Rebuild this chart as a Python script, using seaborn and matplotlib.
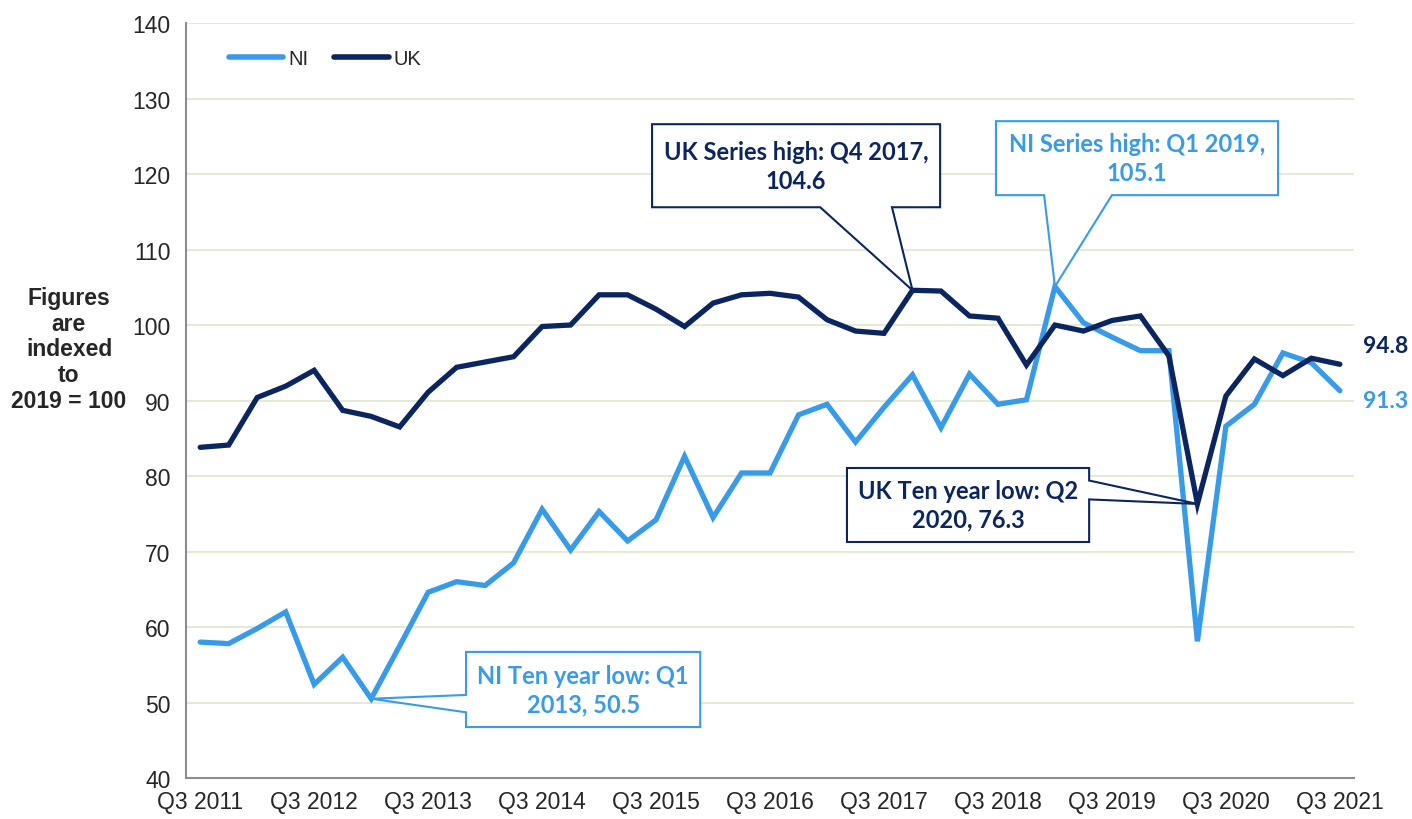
import numpy as np
import pandas as pd
import matplotlib
matplotlib.use("Agg")
import matplotlib.pyplot as plt
from matplotlib.patches import Polygon
from matplotlib.ticker import MultipleLocator
import seaborn as sns

# quarterly index, 2019 = 100
quarters = [f"Q{q} {y}" for y in range(2011, 2022) for q in (1, 2, 3, 4)][2:43]
tick_labels = ["Q3 2011", "Q3 2012", "Q3 2013", "Q3 2014", "Q3 2015", "Q3 2016",
               "Q3 2017", "Q3 2018", "Q3 2019", "Q3 2020", "Q3 2021"]

ni = [58.0, 57.8, 59.8, 62.0, 52.4, 56.0, 50.5, 57.5, 64.6, 66.0, 65.5,
      68.5, 75.6, 70.2, 75.3, 71.4, 74.2, 82.6, 74.5, 80.4, 80.4, 88.1,
      89.5, 84.5, 89.1, 93.4, 86.4, 93.5, 89.5, 90.1, 105.1, 100.3, 98.4,
      96.6, 96.6, 58.1, 86.6, 89.5, 96.3, 95.0, 91.3]
uk = [83.8, 84.1, 90.4, 91.9, 94.0, 88.7, 87.9, 86.5, 91.1, 94.4, 95.1,
      95.8, 99.8, 100.0, 104.0, 104.0, 102.1, 99.8, 102.9, 104.0, 104.2, 103.7,
      100.7, 99.2, 98.9, 104.6, 104.5, 101.2, 100.9, 94.7, 100.0, 99.2, 100.6,
      101.2, 95.9, 76.3, 90.6, 95.5, 93.3, 95.6, 94.8]

NI_COL = "#389BEA"
UK_COL = "#0B2560"
GRID = "#E3EBD6"
CALLOUT_FONT = ["Lato", "DejaVu Sans"]

df = pd.DataFrame({
    "pos": list(range(len(quarters))) * 2,
    "value": ni + uk,
    "series": ["NI"] * len(ni) + ["UK"] * len(uk),
})

sns.set_style("white")
plt.rcParams["font.family"] = ["Liberation Sans", "DejaVu Sans"]

fig = plt.figure(figsize=(14.12, 8.2), dpi=100)
ax = fig.add_axes([0.1317, 0.05, 0.8273, 0.9207])

sns.lineplot(data=df, x="pos", y="value", hue="series",
             palette={"NI": NI_COL, "UK": UK_COL}, linewidth=3.8,
             ax=ax, legend=False)
for ln in ax.lines:
    ln.set_solid_joinstyle("miter")
    ln.set_solid_capstyle("round")

ax.set_xlim(-0.5, len(quarters) - 0.5)
ax.set_ylim(40, 140)
ax.yaxis.set_major_locator(MultipleLocator(10))
ax.yaxis.grid(True, color=GRID, linewidth=1.5)
ax.set_axisbelow(True)

ax.set_xticks([quarters.index(t) for t in tick_labels])
ax.set_xticklabels(tick_labels)
ax.set_xticks(np.arange(-0.5, len(quarters), 1), minor=True)
ax.tick_params(axis="x", which="major", length=0, pad=9, labelsize=16.5)
ax.tick_params(axis="x", which="minor", length=5, width=1.2, color="#8C8C8C", direction="out")
ax.tick_params(axis="y", length=6, width=1.2, color="#8C8C8C", direction="out", labelsize=16.5, pad=5)
ax.set_xlabel("")
ax.set_ylabel("")
for side in ["top", "right"]:
    ax.spines[side].set_visible(False)
for side in ["left", "bottom"]:
    ax.spines[side].set_color("#8C8C8C")
    ax.spines[side].set_linewidth(1.5)

# legend
handles = [plt.Line2D([], [], color=NI_COL, lw=4, solid_capstyle="round"),
           plt.Line2D([], [], color=UK_COL, lw=4, solid_capstyle="round")]
ax.legend(handles, ["NI", "UK"], loc="upper left", bbox_to_anchor=(0.021, 0.99),
          ncol=2, frameon=False, fontsize=14.5, handlelength=2.7, handletextpad=0.25,
          columnspacing=1.3)

fig.text(69 / 1412, 1 - 350 / 820, "Figures\nare\nindexed\nto\n2019 = 100",
         ha="center", va="center", fontsize=16.5, fontweight="bold", linespacing=1.16)


def callout(x0, x1, y0, y1, side, a, b, target, text, color):
    tx, ty = target
    if side == "bottom":
        pts = [(x0, y1), (x1, y1), (x1, y0), (b, y0), (tx, ty), (a, y0), (x0, y0)]
    elif side == "right":
        pts = [(x0, y1), (x1, y1), (x1, a), (tx, ty), (x1, b), (x1, y0), (x0, y0)]
    else:
        pts = [(x0, y1), (x1, y1), (x1, y0), (x0, y0), (x0, b), (tx, ty), (x0, a)]
    ax.add_patch(Polygon(pts, closed=True, facecolor="white", edgecolor=color,
                         linewidth=1.5, clip_on=False, zorder=5))
    ax.text((x0 + x1) / 2, (y0 + y1) / 2, text, ha="center", va="center",
            color=color, fontsize=17, fontweight="bold", family=CALLOUT_FONT,
            linespacing=1.3, zorder=6)


i_uk_hi = int(np.argmax(uk))
i_ni_hi = int(np.argmax(ni))
i_uk_lo = int(np.argmin(uk))
i_ni_lo = int(np.argmin(ni[:20]))

callout(15.86, 25.97, 115.6, 126.6, "bottom", 21.76, 24.28,
        (i_uk_hi, uk[i_uk_hi]),
        f"UK Series high: {quarters[i_uk_hi]},\n{uk[i_uk_hi]}", UK_COL)
callout(27.93, 37.83, 117.2, 127.0, "bottom", 29.62, 32.0,
        (i_ni_hi, ni[i_ni_hi]),
        f"NI Series high: {quarters[i_ni_hi]},\n{ni[i_ni_hi]}", NI_COL)
q, y = quarters[i_uk_lo].split()
callout(22.70, 31.20, 71.26, 81.06, "right", 79.4, 76.9,
        (i_uk_lo, uk[i_uk_lo]),
        f"UK Ten year low: {q}\n{y}, {uk[i_uk_lo]}", UK_COL)
q, y = quarters[i_ni_lo].split()
callout(9.33, 17.55, 46.75, 56.7, "left", 51.0, 48.7,
        (i_ni_lo, ni[i_ni_lo]),
        f"NI Ten year low: {q}\n{y}, {ni[i_ni_lo]}", NI_COL)

# end-point labels
last = len(quarters) - 1
ax.annotate(f"{uk[-1]}", (last, uk[-1]), xytext=(23, 19), textcoords="offset pixels",
            ha="left", va="center", color=UK_COL, fontsize=16.5, fontweight="bold",
            family=CALLOUT_FONT, annotation_clip=False)
ax.annotate(f"{ni[-1]}", (last, ni[-1]), xytext=(23, -10), textcoords="offset pixels",
            ha="left", va="center", color=NI_COL, fontsize=16.5, fontweight="bold",
            family=CALLOUT_FONT, annotation_clip=False)

fig.savefig("out.png", dpi=100)
